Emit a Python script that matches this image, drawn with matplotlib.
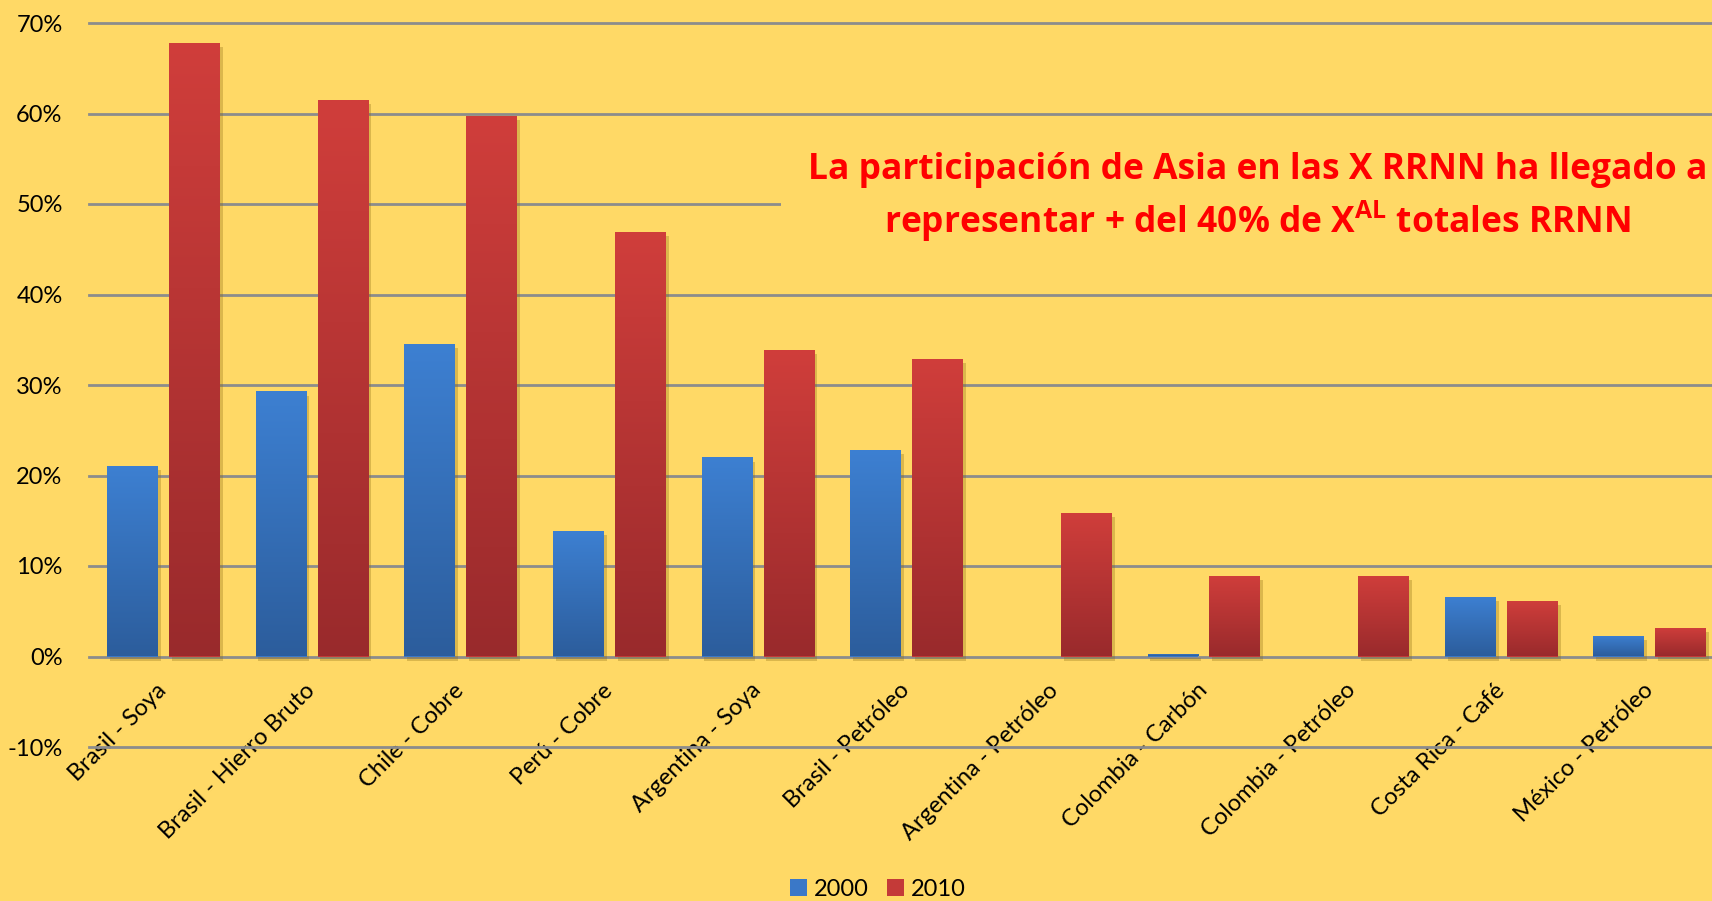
import numpy as np
import matplotlib
matplotlib.use('Agg')
import matplotlib.pyplot as plt
import matplotlib.patheffects as pe
from matplotlib import font_manager
from matplotlib.patches import Patch, Rectangle
from matplotlib.colors import LinearSegmentedColormap

# data
categorias = ['Brasil - Soya', 'Brasil - Hierro Bruto', 'Chile - Cobre', 'Perú - Cobre',
              'Argentina - Soya', 'Brasil - Petróleo', 'Argentina - Petróleo',
              'Colombia - Carbón', 'Colombia - Petróleo', 'Costa Rica - Café',
              'México - Petróleo']
v2000 = [21.1, 29.3, 34.5, 13.9, 22.0, 22.8, 0.0, 0.3, 0.0, 6.6, 2.3]
v2010 = [67.8, 61.5, 59.7, 46.9, 33.9, 32.9, 15.9, 8.9, 8.9, 6.1, 3.2]
yticks = [-10, 0, 10, 20, 30, 40, 50, 60, 70]

names = {f.name for f in font_manager.fontManager.ttflist}
def pick(lst):
    for n in lst:
        if n in names:
            return n
    return 'DejaVu Sans'

label_font = pick(['Lato', 'Open Sans', 'DejaVu Sans'])
title_font = pick(['Open Sans', 'Lato'])
plt.rcParams['font.family'] = [label_font, 'DejaVu Sans']
plt.rcParams['mathtext.fontset'] = 'custom'
plt.rcParams['mathtext.bf'] = title_font + ':bold'

BG = '#FFD966'
fig = plt.figure(figsize=(17.12, 9.01), dpi=100, facecolor=BG)
ax = fig.add_axes([89/1712, 154/901, 1635/1712, 724/901])
ax.set_facecolor(BG)

x = np.arange(len(categorias))
w = 0.343
shadow = [pe.SimplePatchShadow(offset=(2, -3), shadow_rgbFace='#8a6a10', alpha=0.3), pe.Normal()]
b1 = ax.bar(x - 0.207, v2000, width=w, color='#3A78C8', zorder=3, path_effects=shadow)
b2 = ax.bar(x + 0.210, v2010, width=w, color='#C43A38', zorder=3, path_effects=shadow)

cm_blue = LinearSegmentedColormap.from_list('b', ['#2C5D9C', '#3D80D2'])
cm_red = LinearSegmentedColormap.from_list('r', ['#992A2C', '#D03E3B'])
grad = np.linspace(0, 1, 256).reshape(-1, 1)
for bars, cmap in ((b1, cm_blue), (b2, cm_red)):
    for b in bars:
        h = b.get_height()
        if h <= 0:
            continue
        im = ax.imshow(grad, cmap=cmap, origin='lower', aspect='auto', zorder=4,
                       extent=[b.get_x(), b.get_x() + b.get_width(), 0, h])
        im.set_clip_path(b)

ax.set_xlim(-0.5, len(categorias) - 0.5)
ax.set_ylim(-10, 70)
ax.set_yticks(yticks)
ax.set_yticklabels([f'{t}%' for t in yticks], fontsize=17)
ax.yaxis.grid(True, color='#8C8C8C', linewidth=2, zorder=1)
for gl in ax.get_ygridlines():
    gl.set_clip_on(False)
ax.set_axisbelow(True)
ax.tick_params(axis='y', length=0, pad=19)
ax.spines['bottom'].set_position(('data', 0))
ax.tick_params(axis='x', length=0, pad=22)
ax.set_xticks(x)
ax.set_xticklabels(categorias, rotation=45, ha='right', va='center',
                   rotation_mode='anchor', fontsize=17)
for s in ax.spines.values():
    s.set_color('none')

# text box hiding part of 50% grid line
fig.patches.append(Rectangle((781/1712, 1 - 260/901), 1, 120/901, transform=fig.transFigure,
                             facecolor=BG, edgecolor='none', zorder=5))
fig.text(0.7345, 1 - 170/901, 'La participación de Asia en las X RRNN ha llegado a',
         ha='center', va='center', color='#FF0000', fontsize=25.5, fontweight='bold',
         family=title_font, zorder=6)
fig.text(0.7345, 1 - 221/901, r'representar + del 40% de X$^{\mathbf{AL}}$ totales RRNN',
         ha='center', va='center', color='#FF0000', fontsize=25.5, fontweight='bold',
         family=title_font, zorder=6)

handles = [Patch(facecolor='#3A78C8', label='2000'), Patch(facecolor='#C43A38', label='2010')]
fig.legend(handles=handles, loc='center', bbox_to_anchor=(878/1712, 1 - 889/901), ncol=2,
           frameon=False, fontsize=17, handlelength=0.7, handleheight=0.7,
           handletextpad=0.3, columnspacing=0.8)

fig.savefig('out.png', dpi=100, facecolor=BG)
